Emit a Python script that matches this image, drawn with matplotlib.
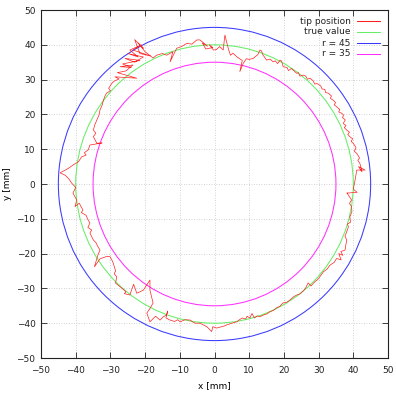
import matplotlib
matplotlib.use("Agg")
import matplotlib.pyplot as plt
from matplotlib.patches import Circle
from matplotlib.lines import Line2D

# measured tip trajectory [mm], counter-clockwise from the right side
tip_x = [38.2, 41.1, 40.0, 40.5, 41.0, 43.4, 41.5, 42.5, 41.9, 41.3, 41.8, 41.0, 40.3, 40.8,
         40.0, 39.4, 39.8, 39.0, 38.4, 38.9, 38.1, 37.4, 37.9, 37.1, 37.7, 36.9, 37.2, 36.7,
         35.8, 36.1, 35.2, 34.5, 34.9, 34.2, 33.4, 33.7, 32.8, 32.0, 31.8, 31.0, 30.6, 29.5,
         28.9, 28.4, 27.5, 26.8, 26.3, 25.6, 24.6, 24.2, 23.7, 22.8, 22.2, 21.3, 20.9, 19.8,
         19.3, 18.9, 18.2, 17.5, 16.9, 16.0, 15.0, 14.4, 14.0, 13.5, 13.1, 12.5, 12.0, 11.2,
         10.0, 9.2, 8.3, 7.3, 8.0, 6.5, 5.3, 4.6, 4.0, 3.0, 2.5, 1.5, 0.5, -0.3, -1.5,
         -0.5, -2.5, -3.5, -2.0, -4.2, -5.1, -6.5, -8.0, -9.5, -10.9, -12.8, -12.0, -13.8, -15.0,
         -16.7, -17.7, -20.0, -22.0, -20.5, -23.0, -21.5, -18.5, -23.5, -21.0, -24.4, -22.0, -25.0,
         -20.5, -23.0, -25.8, -21.5, -26.5, -24.0, -27.2, -23.5, -25.5, -28.0, -22.4, -28.7, -27.5,
         -29.0, -29.6, -30.5, -30.0, -31.1, -31.6, -32.0, -32.4, -33.0, -33.3, -33.9, -34.5, -34.9,
         -34.2, -34.9, -33.9, -32.4, -35.9, -36.4, -37.5, -37.0, -38.3, -39.2, -40.7, -41.4, -42.1,
         -44.5, -43.0, -42.0, -41.2, -40.0, -40.8, -39.7, -40.2, -39.0, -37.9, -38.4, -37.0, -36.6,
         -35.9, -36.5, -35.4, -35.9, -34.9, -34.2, -33.6, -33.0, -33.6, -34.6, -33.0, -31.0, -30.1,
         -29.6, -29.2, -28.5, -28.9, -28.2, -28.5, -27.2, -25.5, -26.0, -24.4, -23.3, -22.4, -20.5,
         -18.6, -18.6, -17.7, -18.5, -19.5, -18.6, -17.0, -15.7, -14.8, -13.8, -13.5, -14.0, -12.8,
         -11.5, -10.6, -9.9, -8.5, -7.0, -6.2, -5.5, -4.2, -3.0, -2.2, -0.8, -0.5, 0.6, 2.0,
         2.8, 3.5, 5.0, 6.4, 7.2, 8.0, 9.0, 9.4, 10.2, 10.8, 11.5, 12.3, 13.1, 14.5, 15.2,
         16.0, 17.0, 18.0, 18.8, 19.7, 20.8, 21.8, 22.8, 23.7, 24.6, 25.5, 26.2, 27.0, 27.8,
         29.0, 29.7, 30.4, 31.4, 32.4, 33.3, 34.5, 35.2, 36.5, 35.8, 37.0, 36.4, 37.6, 38.1,
         37.6, 38.0, 38.6, 38.3, 39.2, 39.0, 39.6, 39.5, 38.9, 39.5, 38.2]
tip_y = [-2.6, -2.4, -1.5, 1.1, 4.0, 4.0, 5.0, 3.5, 5.9, 6.8, 7.5, 8.8, 9.4, 10.4,
         11.7, 12.2, 13.0, 13.6, 14.3, 14.9, 15.5, 16.2, 16.8, 17.4, 18.4, 19.1, 19.8, 20.3,
         20.7, 21.4, 22.2, 22.8, 23.4, 24.1, 24.6, 25.3, 26.1, 26.3, 27.2, 27.3, 28.2, 28.9,
         28.7, 29.7, 30.4, 30.1, 31.0, 31.3, 31.0, 32.0, 31.8, 32.6, 33.2, 32.6, 33.5, 33.7,
         35.4, 35.6, 34.6, 35.4, 35.1, 35.9, 35.6, 36.5, 37.0, 38.3, 38.5, 37.2, 36.8, 36.1,
         35.8, 36.0, 34.7, 32.3, 35.5, 36.5, 37.6, 37.0, 38.8, 42.8, 38.5, 39.5, 38.6, 38.5, 40.0,
         39.2, 38.8, 40.5, 39.6, 41.4, 41.4, 40.2, 40.4, 39.5, 39.0, 35.1, 38.0, 37.0, 37.5,
         37.0, 36.2, 38.0, 40.5, 39.0, 41.5, 37.5, 36.8, 38.5, 40.0, 38.5, 36.5, 37.5,
         36.5, 35.0, 36.1, 35.5, 34.5, 33.5, 33.7, 34.2, 32.5, 32.0, 30.4, 30.8, 30.2,
         29.5, 28.9, 27.5, 26.8, 26.1, 25.2, 24.1, 22.6, 21.3, 19.8, 18.4, 17.0, 15.5,
         14.6, 13.6, 11.7, 11.8, 11.2, 9.8, 9.0, 8.3, 7.8, 6.4, 5.5, 5.0, 4.5,
         3.2, 2.5, 1.5, 0.3, -1.0, -2.6, -4.6, -6.5, -5.5, -7.5, -8.2, -9.0, -10.0,
         -11.2, -12.5, -13.2, -14.1, -16.1, -16.8, -18.0, -19.0, -20.4, -23.8, -21.5, -20.8, -20.9,
         -21.8, -22.7, -25.0, -25.8, -26.6, -28.5, -29.5, -31.0, -31.5, -31.9, -28.8, -31.4, -30.5,
         -27.6, -30.5, -34.2, -35.6, -37.1, -39.6, -38.0, -39.1, -38.2, -37.6, -36.5, -38.5, -39.1,
         -39.5, -39.0, -39.6, -39.0, -39.1, -39.7, -40.0, -40.0, -40.6, -41.0, -42.4, -41.0, -41.4, -41.0,
         -40.8, -40.5, -40.0, -39.6, -39.0, -38.5, -38.8, -38.0, -38.5, -37.2, -38.5, -37.9, -38.1, -37.5, -37.3,
         -36.7, -36.3, -35.5, -35.2, -34.2, -34.0, -33.3, -32.4, -31.9, -31.6, -30.8, -30.0, -28.4, -29.3,
         -28.0, -27.5, -26.6, -25.2, -24.5, -23.3, -22.5, -21.4, -21.8, -20.0, -20.5, -19.4, -19.0, -16.1,
         -15.0, -14.0, -12.3, -11.5, -11.0, -9.4, -8.0, -6.5, -5.6, -4.6, -2.6]

# reference circles [mm]
true_radius = 40
outer_radius = 45
inner_radius = 35

labels = ["tip position", "true value", "r = 45", "r = 35"]
colors = ["#ff2020", "#66ee66", "#3a3aff", "#ff30ff"]

ticks = [-50, -40, -30, -20, -10, 0, 10, 20, 30, 40, 50]

plt.rcParams["font.family"] = ["DejaVu Sans"]
fs = 6.5

fig = plt.figure(figsize=(3.96, 3.99), dpi=100)
ax = fig.add_axes([41 / 396, 41 / 399, 347 / 396, 348 / 399])

ax.plot(tip_x, tip_y, color=colors[0], lw=0.5, zorder=4)
for r, c in zip([true_radius, outer_radius, inner_radius], colors[1:]):
    ax.add_patch(Circle((0, 0), r, fill=False, edgecolor=c, lw=0.75, zorder=3))

ax.set_xlim(-50, 50)
ax.set_ylim(-50, 50)
ax.set_xticks(ticks)
ax.set_yticks(ticks)
ax.grid(True, color="#c4c4c4", linestyle=(0, (1, 2)), lw=0.6)
ax.tick_params(direction="in", length=4, width=0.6, top=True, right=True,
               labelsize=fs, colors="#222222")
ax.tick_params(axis="x", pad=6)
ax.tick_params(axis="y", pad=4)
for s in ax.spines.values():
    s.set_linewidth(0.8)
    s.set_color("#222222")

ax.set_xlabel("x [mm]", fontsize=fs, labelpad=4)
ax.set_ylabel("y [mm]", fontsize=fs, labelpad=3)

# key in the upper right corner: right-aligned text followed by a line sample
key_y = [0.968, 0.937, 0.905, 0.874]
for lab, c, yy in zip(labels, colors, key_y):
    ax.text(0.8925, yy, lab, transform=ax.transAxes, ha="right", va="center",
            fontsize=fs, color="#222222", zorder=6)
    ax.add_line(Line2D([0.91, 0.977], [yy, yy], transform=ax.transAxes,
                       color=c, lw=0.75, zorder=6))

fig.savefig("out.png", dpi=100)
